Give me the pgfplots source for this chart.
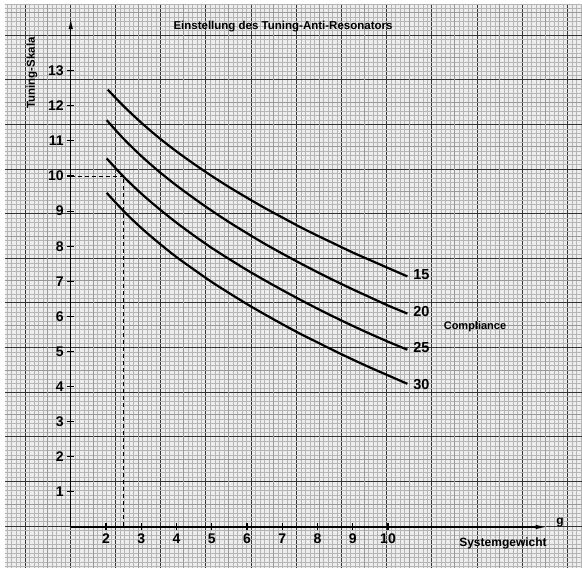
\documentclass[border=0pt]{standalone}
\usepackage{fontspec}
\setmainfont{Liberation Sans}
\usepackage{pgfplots}
\pgfplotsset{compat=1.18}
\usepackage{pgfplotstable}
\usetikzlibrary{arrows.meta}

% Compliance 15
\pgfplotstableread{
x y
2.05 12.46
2.5 11.99
3.0 11.52
3.5 11.09
4.0 10.70
4.5 10.34
5.0 10.00
5.5 9.68
6.0 9.38
6.5 9.09
7.0 8.82
7.5 8.55
8.0 8.30
8.5 8.06
9.0 7.82
9.5 7.60
10.0 7.38
10.55 7.14
}\cfifteen

% Compliance 20
\pgfplotstableread{
x y
2.02 11.59
2.5 11.06
3.0 10.57
3.5 10.13
4.0 9.73
4.5 9.36
5.0 9.01
5.5 8.68
6.0 8.37
6.5 8.07
7.0 7.79
7.5 7.52
8.0 7.26
8.5 7.01
9.0 6.77
9.5 6.54
10.0 6.31
10.55 6.08
}\ctwenty

% Compliance 25
\pgfplotstableread{
x y
2.02 10.50
2.5 9.98
3.0 9.50
3.5 9.07
4.0 8.67
4.5 8.30
5.0 7.95
5.5 7.63
6.0 7.32
6.5 7.03
7.0 6.75
7.5 6.48
8.0 6.22
8.5 5.97
9.0 5.73
9.5 5.50
10.0 5.28
10.55 5.05
}\ctwentyfive

% Compliance 30
\pgfplotstableread{
x y
2.02 9.52
2.5 9.00
3.0 8.52
3.5 8.09
4.0 7.69
4.5 7.33
5.0 6.98
5.5 6.66
6.0 6.35
6.5 6.06
7.0 5.78
7.5 5.51
8.0 5.26
8.5 5.01
9.0 4.77
9.5 4.54
10.0 4.32
10.55 4.08
}\cthirty

\begin{document}
\begin{tikzpicture}
\useasboundingbox (0pt,0pt) rectangle (582pt,568pt);
\fill[white] (0pt,0pt) rectangle (582pt,568pt);
\fill[gray!14] (5pt,0pt) rectangle (582pt,563pt);

% graph paper
\begin{scope}
\clip (5pt,0pt) rectangle (582pt,563pt);
\begin{axis}[
  at={(-20.2pt,-2.8pt)}, anchor=south west,
  scale only axis, width=632.8pt, height=580.45pt,
  xmin=-20.2, xmax=612.6, ymin=-9.65, ymax=570.8, y dir=reverse,
  axis line style={draw=none},
  xtick={-20.2,25,...,613}, ytick={-9.65,35,...,571},
  xticklabels={}, yticklabels={},
  minor x tick num=9, minor y tick num=9,
  major tick length=0pt, minor tick length=0pt,
  grid=both,
  major grid style={black!80, line width=0.9pt},
  minor grid style={gray!58, line width=0.4pt},
  extra x ticks={2.4,47.6,...,591}, extra y ticks={12.675,57.325,...,549},
  extra x tick labels={}, extra y tick labels={},
  extra tick style={grid=major, major grid style={gray!80, line width=0.6pt}, major tick length=0pt},
]
\end{axis}
\end{scope}

% chart
\begin{axis}[
  at={(70.75pt,41pt)}, anchor=south west,
  scale only axis, width=475.875pt, height=508.95pt,
  xmin=1, xmax=14.5, ymin=0, ymax=14.5,
  axis lines=left,
  axis line style={line width=1.3pt, -{Latex[length=11pt,width=4.5pt]}},
  xtick={2,...,10}, ytick={1,...,13},
  tick align=center, major tick length=7pt,
  tick style={line width=1.1pt, black},
  ticklabel style={font=\fontsize{14}{14}\selectfont\bfseries},
  /pgf/number format/assume math mode=true,
  clip=false,
]
\addplot[black, line width=0.9pt, dash pattern=on 4pt off 3pt] coordinates {(1,10) (2.5,10) (2.5,0)};
\addplot[black, line width=2.2pt, smooth] table {\cfifteen};
\addplot[black, line width=2.2pt, smooth] table {\ctwenty};
\addplot[black, line width=2.2pt, smooth] table {\ctwentyfive};
\addplot[black, line width=2.2pt, smooth] table {\cthirty};
\node[anchor=west, font=\fontsize{14.5}{14}\selectfont\bfseries] at (axis cs:10.62,7.18) {15};
\node[anchor=west, font=\fontsize{14.5}{14}\selectfont\bfseries] at (axis cs:10.62,6.13) {20};
\node[anchor=west, font=\fontsize{14.5}{14}\selectfont\bfseries] at (axis cs:10.62,5.10) {25};
\node[anchor=west, font=\fontsize{14.5}{14}\selectfont\bfseries] at (axis cs:10.62,4.07) {30};
\end{axis}

\node[font=\fontsize{11.5}{12}\selectfont\bfseries] at (283pt,541pt) {Einstellung des Tuning-Anti-Resonators};
\node[font=\fontsize{11.5}{12}\selectfont\bfseries, rotate=90] at (32pt,495pt) {Tuning-Skala};
\node[font=\fontsize{11}{12}\selectfont\bfseries] at (475pt,241pt) {Compliance};
\node[font=\fontsize{12}{12}\selectfont\bfseries] at (503pt,25pt) {Systemgewicht};
\node[font=\fontsize{12}{12}\selectfont\bfseries] at (560pt,45pt) {g};
\end{tikzpicture}
\end{document}
